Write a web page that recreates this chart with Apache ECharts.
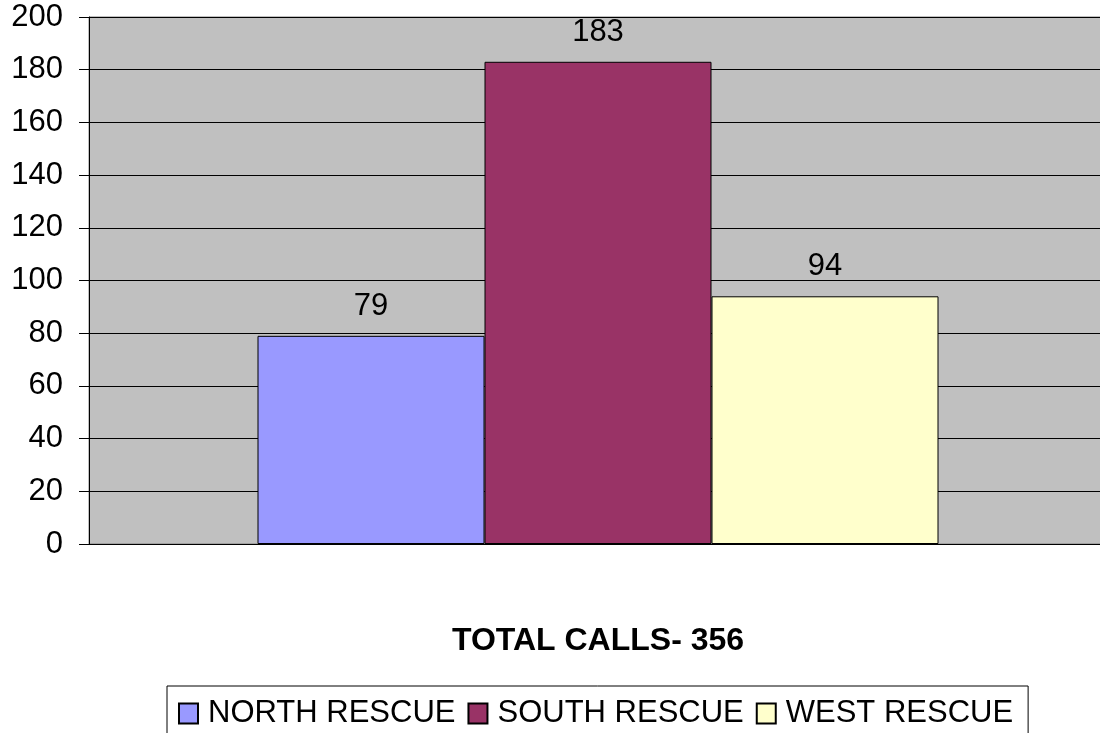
<!DOCTYPE html>
<html>
<head>
<meta charset="utf-8">
<script src="https://cdn.jsdelivr.net/npm/echarts@6/dist/echarts.min.js"></script>
<style>
  html, body { margin: 0; padding: 0; background: #fff; }
  #chart { width: 1100px; height: 733px; }
</style>
</head>
<body>
<div id="chart"></div>
<script>
const categories = ['TOTAL CALLS- 356']
const seriesNames = ['NORTH RESCUE', 'SOUTH RESCUE', 'WEST RESCUE']
const northValues = [79]
const southValues = [183]
const westValues = [94]
const colors = ['#9999FF', '#993366', '#FFFFCC']

const font = 'Arial, "Liberation Sans", sans-serif'
const chart = echarts.init(document.getElementById('chart'))

const makeSeries = (name, data, color) => ({
  name,
  type: 'bar',
  data,
  barWidth: 227,
  barGap: '0%',
  itemStyle: { color, borderColor: '#000', borderWidth: 1 },
  label: {
    show: true,
    position: 'top',
    distance: 14,
    color: '#000',
    fontFamily: font,
    fontSize: 31,
  },
})

chart.setOption({
  animation: false,
  backgroundColor: '#fff',
  textStyle: { fontFamily: font },
  grid: {
    left: 89, top: 17, bottom: 189,
    width: 1018,
    outerBoundsMode: 'none',
    show: true,
    backgroundColor: '#C0C0C0',
    borderColor: '#808080',
    borderWidth: 1,
  },
  legend: {
    data: seriesNames,
    left: 167,
    top: 686,
    orient: 'horizontal',
    itemWidth: 19,
    itemHeight: 20,
    itemGap: 12,
    padding: [12, 15, 30, 11],
    borderColor: '#000',
    borderWidth: 1,
    icon: 'rect',
    textStyle: { color: '#000', fontSize: 31, fontFamily: font, padding: [0, 0, 0, 5] },
  },
  xAxis: {
    type: 'category',
    data: categories,
    axisLine: { show: true, lineStyle: { color: '#000' } },
    axisTick: { show: false },
    axisLabel: {
      margin: 81,
      color: '#000',
      fontSize: 32,
      fontWeight: 'bold',
      fontFamily: font,
    },
  },
  yAxis: {
    type: 'value',
    min: 0,
    max: 200,
    interval: 20,
    axisLine: { show: true, lineStyle: { color: '#000' } },
    axisTick: { show: true, length: 10, lineStyle: { color: '#000' } },
    axisLabel: { margin: 26, color: '#000', fontSize: 31, fontFamily: font },
    splitLine: { show: true, lineStyle: { color: '#000', width: 1 } },
  },
  series: [
    makeSeries(seriesNames[0], northValues, colors[0]),
    makeSeries(seriesNames[1], southValues, colors[1]),
    makeSeries(seriesNames[2], westValues, colors[2]),
  ],
})
</script>
</body>
</html>
